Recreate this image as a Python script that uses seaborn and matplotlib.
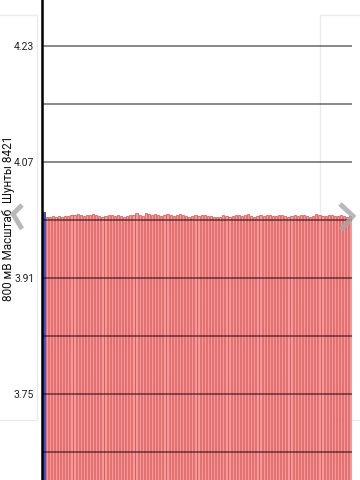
import matplotlib
matplotlib.use("Agg")
import matplotlib.pyplot as plt
import seaborn as sns
import pandas as pd
from matplotlib.patches import Rectangle
from matplotlib.lines import Line2D

# ---- data ----
ylabel_text = "800 мВ Масштаб  Шунты 8421"
tick_values = [4.23, 4.15, 4.07, 3.99, 3.91, 3.83, 3.75, 3.67]
tick_labels = ["4.23", "", "4.07", "", "3.91", "", "3.75", ""]
current_value = [4.0015]
history_values = [
    3.9935, 3.9945, 3.9955, 3.9948, 3.9955, 3.9945, 3.9960, 3.9955, 3.9965, 3.9975,
    3.9980, 3.9965, 3.9955, 3.9965, 3.9968, 3.9980, 3.9968, 3.9955, 3.9945, 3.9960,
    3.9975, 3.9965, 3.9960, 3.9968, 3.9955, 3.9945, 3.9960, 3.9975, 3.9968, 3.9990,
    3.9968, 3.9960, 3.9995, 3.9980, 3.9975, 3.9985, 3.9965, 3.9955, 3.9968, 3.9980,
    3.9965, 3.9955, 3.9975, 3.9980, 3.9968, 3.9960, 3.9945, 3.9955, 3.9968, 3.9960,
    3.9975, 3.9965, 3.9955, 3.9960, 3.9945, 3.9935, 3.9948, 3.9968, 3.9955, 3.9945,
    3.9960, 3.9975, 3.9965, 3.9955, 3.9968, 3.9980, 3.9960, 3.9948, 3.9960, 3.9968,
    3.9955, 3.9965, 3.9975, 3.9960, 3.9955, 3.9968, 3.9965, 3.9955, 3.9945, 3.9960,
    3.9968, 3.9960, 3.9975, 3.9968, 3.9955, 3.9945, 3.9960, 3.9978, 3.9965, 3.9955,
    3.9960, 3.9968, 3.9975, 3.9955, 3.9960, 3.9968, 3.9955, 3.9945, 3.9955,
]
values = current_value + history_values
kinds = ["current"] + ["history"] * len(history_values)

df = pd.DataFrame({"idx": list(range(len(values))), "value": values, "kind": kinds})

sns.set_style("white")
plt.rcParams["font.family"] = ["Roboto", "DejaVu Sans"]

fig = plt.figure(figsize=(3.6, 4.8), dpi=100)
fig.patch.set_facecolor("white")

# faint neighbouring carousel panels (outline only, behind the axes)
fig.patches.append(Rectangle((-10 / 360, 1 - 420 / 480), 47 / 360, 405 / 480,
                             transform=fig.transFigure, facecolor="none",
                             edgecolor="#ebebeb", lw=1.0, zorder=-5))
fig.patches.append(Rectangle((320 / 360, 1 - 420 / 480), 60 / 360, 405 / 480,
                             transform=fig.transFigure, facecolor="none",
                             edgecolor="#ebebeb", lw=1.0, zorder=-5))

ax = fig.add_axes([42 / 360, 0, 310 / 360, 1])
ax.patch.set_alpha(0)

sns.barplot(data=df, x="idx", y="value", hue="kind",
            palette={"current": "#3b3bd6", "history": "#ff8e8e"},
            width=0.7, dodge=False, legend=False, ax=ax,
            edgecolor="#e04848", linewidth=0.5, zorder=2)
for p in ax.patches:
    if abs(p.get_height() - current_value[0]) < 1e-9 and p.get_x() < 0.5:
        p.set_edgecolor("#2a2aa8")

ax.set_ylim(3.6314, 4.2934)
ax.set_xlim(-0.5, len(values) - 0.5)
ax.set_yticks(tick_values)
ax.set_yticklabels(tick_labels)
ax.set_xticks([])
ax.set_xlabel("")
ax.set_ylabel("")
for t in tick_values:
    ax.axhline(t, color="black", alpha=0.55, lw=1.2, zorder=3)

for s in ["top", "right", "bottom"]:
    ax.spines[s].set_visible(False)
ax.spines["left"].set_color("black")
ax.spines["left"].set_linewidth(1.8)
ax.spines["left"].set_zorder(4)
ax.tick_params(axis="y", direction="out", length=4, width=1.6, color="black",
               labelsize=7.5, labelcolor="#222222", pad=1.5)

fig.text(8.5 / 360, 1 - 218 / 480, ylabel_text, rotation=90, ha="center",
         va="center", fontsize=8.5, color="#111111")

# carousel chevrons
def fig_line(xs, ys):
    fig.lines.append(Line2D([x / 360 for x in xs], [1 - y / 480 for y in ys],
                            transform=fig.transFigure, color="#a8a8a8",
                            alpha=0.8, lw=3.5, zorder=10,
                            solid_capstyle="butt", solid_joinstyle="miter"))

fig_line([22, 13, 22], [205, 214, 229])
fig_line([340, 353, 341], [204, 216, 230])

fig.savefig("out.png", dpi=100)
